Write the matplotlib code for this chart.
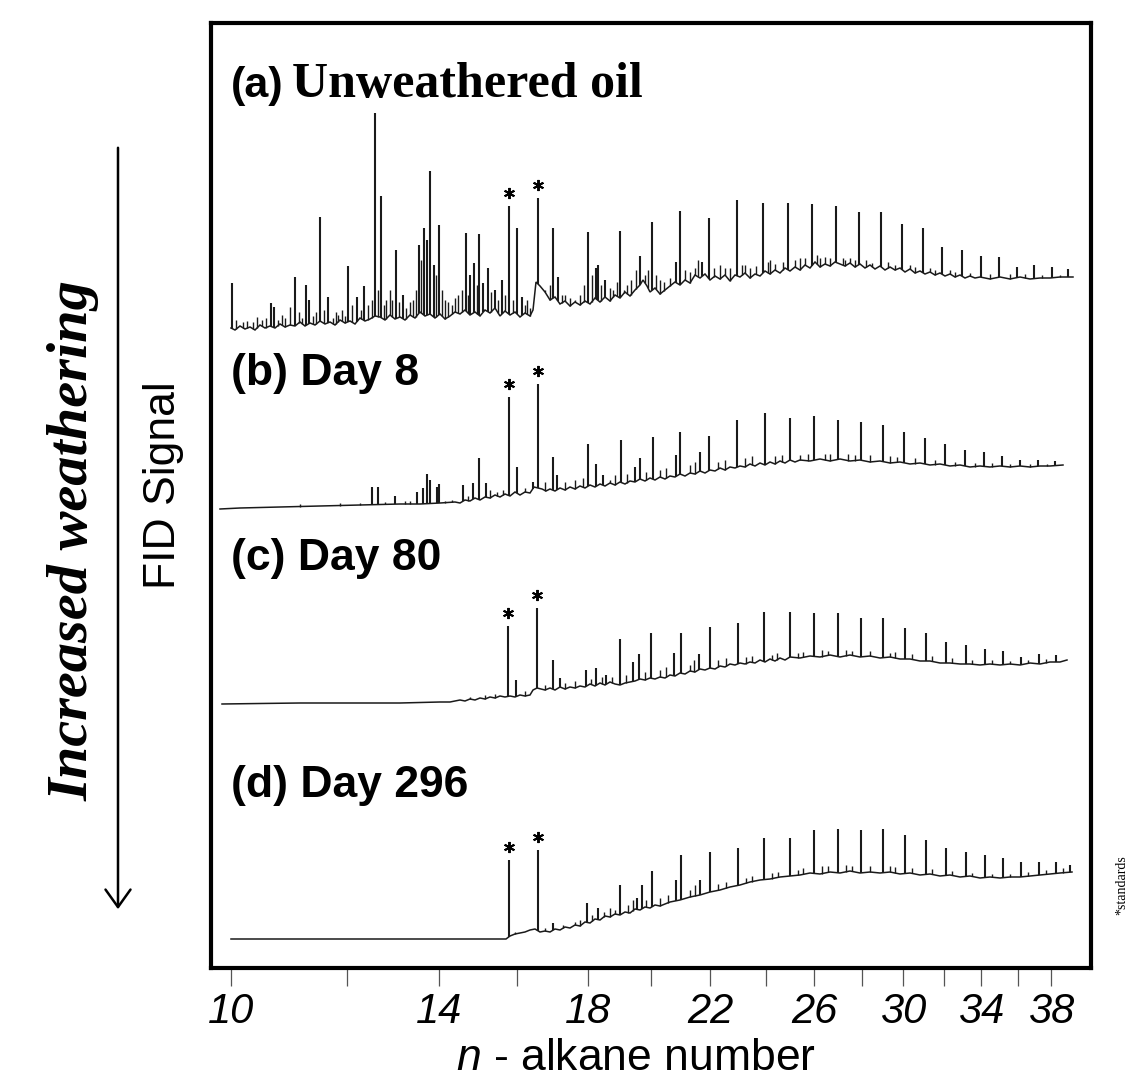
import numpy as np
import matplotlib
matplotlib.use('Agg')
import matplotlib.pyplot as plt
from matplotlib.patches import FancyArrowPatch

plt.rcParams['mathtext.fontset'] = 'custom'
plt.rcParams['mathtext.it'] = 'Liberation Sans:italic'
plt.rcParams['mathtext.rm'] = 'Liberation Sans'

# ---------------- data ----------------
# retention positions of the n-alkanes used as axis ticks
alkane_rt = [231, 347, 439, 517, 588, 651, 710, 766, 814, 862, 903, 944, 981, 1018, 1051]
tick_labels = ['10', '', '14', '', '18', '', '22', '', '26', '', '30', '', '34', '', '38']

panel_titles = ['(a)', '(b) Day 8', '(c) Day 80', '(d) Day 296']

# ---- (a) unweathered oil ----
a_base_rt = [231, 235, 240, 245, 250, 255, 260, 265, 270, 275, 280, 285, 290, 295, 300, 305, 310, 315,
             320, 325, 330, 335, 340, 345, 350, 355, 360, 365, 370, 375, 380, 385, 390, 395, 400, 405,
             410, 415, 420, 425, 430, 435, 440, 445, 450, 455, 460, 465, 470, 475, 480, 485, 490, 495,
             500, 505, 510, 515, 520, 525, 530, 533, 536, 540, 545, 550, 555, 560, 565, 570, 575, 580,
             585, 590, 595, 600, 605, 610, 615, 620, 625, 630, 635, 640, 643, 647, 650, 655, 660, 665,
             670, 675, 680, 685, 690, 695, 700, 705, 710, 715, 720, 725, 730, 735, 740, 745, 750, 755,
             760, 765, 770, 775, 780, 785, 790, 795, 800, 805, 810, 815, 820, 825, 830, 835, 840, 845,
             850, 855, 860, 865, 870, 875, 880, 885, 890, 895, 900, 905, 910, 915, 920, 925, 930, 935,
             940, 945, 950, 955, 960, 965, 970, 975, 980, 990, 1000, 1010, 1020, 1030, 1040, 1050, 1060,
             1073]
a_base = [2, 0, 4, 1, 3, 0, 5, 2, 4, 2, 6, 3, 5, 4, 8, 4, 7, 5,
          9, 6, 8, 5, 10, 7, 9, 6, 12, 9, 11, 14, 13, 10, 15, 11, 13, 10,
          15, 12, 18, 14, 16, 12, 16, 11, 14, 18, 16, 20, 15, 18, 14, 20, 17, 22,
          14, 19, 15, 18, 13, 17, 14, 20, 48, 44, 38, 30, 33, 26, 29, 24, 28, 25,
          29, 26, 32, 28, 33, 29, 35, 32, 38, 34, 40, 45, 50, 44, 38, 42, 36, 40,
          44, 48, 45, 50, 47, 55, 52, 56, 50, 54, 51, 55, 49, 55, 53, 57, 52, 56,
          54, 59, 56, 60, 57, 62, 59, 63, 60, 65, 62, 68, 63, 66, 64, 68, 66, 64,
          67, 63, 66, 62, 65, 61, 64, 60, 63, 60, 62, 58, 61, 57, 59, 56, 58, 55,
          57, 54, 56, 53, 55, 52, 54, 52, 53, 51, 53, 51, 53, 51, 52, 52, 53,
          53]
a_peak_rt = [232, 271, 274, 295, 306, 309, 320, 328, 348, 357, 364, 375, 381, 396, 403, 419, 424, 427,
             430, 434, 439, 466, 470, 474, 479, 483, 488, 495, 502, 509, 517, 522, 538, 553, 558, 588,
             596, 598, 605, 620, 640, 652, 676, 680, 702, 709, 737, 763, 788, 812, 836, 859, 881, 902,
             923, 942, 962, 981, 999, 1017, 1034, 1052, 1068]
a_peak = [47, 27, 23, 53, 45, 30, 113, 33, 64, 33, 44, 217, 134, 80, 35, 85, 102, 90,
          159, 65, 105, 97, 55, 67, 96, 47, 62, 40, 50, 124, 102, 33, 132, 102, 53, 98,
          62, 65, 50, 99, 74, 108, 68, 119, 68, 112, 130, 127, 127, 126, 124, 118, 118, 106,
          102, 83, 80, 74, 73, 63, 65, 63, 61]
a_minor_rt = [236, 243, 247, 253, 257, 262, 266, 278, 282, 285, 290, 299, 302, 313, 316, 324, 333, 336,
              338, 342, 345, 352, 361, 368, 372, 378, 384, 386, 390, 392, 399, 406, 410, 413, 416, 421,
              436, 442, 445, 448, 452, 455, 458, 462, 468, 477, 491, 498, 505, 513, 525, 527, 530, 545,
              550, 562, 565, 570, 575, 580, 584, 592, 601, 610, 613, 617, 624, 627, 631, 636, 645, 648,
              656, 660, 664, 670, 685, 690, 695, 698, 714, 720, 725, 730, 742, 745, 750, 756, 768, 770,
              775, 783, 795, 800, 805, 817, 820, 825, 830, 843, 845, 850, 855, 866, 872, 888, 895, 910,
              915, 930, 935, 950, 955, 970, 990, 1010, 1025, 1042, 1060]
a_minor = [10, 8, 9, 8, 13, 10, 12, 10, 15, 12, 23, 18, 12, 14, 18, 20, 12, 18,
           15, 20, 14, 25, 20, 25, 30, 40, 25, 30, 40, 30, 28, 22, 28, 30, 40, 70,
           55, 40, 30, 28, 25, 32, 35, 40, 35, 45, 38, 30, 35, 30, 25, 30, 22, 40,
           45, 35, 35, 32, 30, 35, 45, 55, 45, 42, 40, 48, 40, 45, 50, 60, 55, 60,
           55, 50, 48, 52, 60, 58, 62, 70, 62, 65, 62, 62, 65, 65, 62, 64, 68, 70,
           66, 68, 70, 72, 72, 75, 72, 73, 72, 72, 70, 72, 70, 70, 67, 68, 65, 65,
           63, 62, 60, 60, 58, 57, 56, 56, 56, 55, 55]

# ---- (b) Day 8 ----
b_base_rt = [220, 240, 260, 280, 300, 320, 340, 360, 380, 400, 420, 440, 455, 460, 465, 470, 475, 480,
             485, 490, 495, 500, 505, 510, 515, 520, 525, 530, 534, 538, 542, 546, 550, 555, 560, 565,
             570, 575, 580, 585, 590, 595, 600, 605, 610, 615, 620, 625, 630, 635, 640, 645, 650, 655,
             660, 665, 670, 675, 680, 685, 690, 695, 700, 705, 710, 715, 720, 725, 730, 735, 740, 745,
             750, 755, 760, 765, 770, 775, 780, 785, 790, 795, 800, 810, 820, 830, 840, 850, 860, 870,
             880, 890, 900, 910, 920, 930, 940, 950, 960, 970, 980, 990, 1000, 1010, 1020, 1030, 1040,
             1050, 1063]
b_base = [1, 2, 2.5, 3, 3.5, 4, 4.5, 5, 5.5, 6, 6, 7, 8, 7, 10, 9, 12, 10,
          13, 12, 15, 13, 16, 14, 18, 15, 18, 17, 23, 22, 21, 19, 21, 19, 22, 20,
          23, 21, 24, 22, 25, 23, 26, 24, 27, 25, 28, 26, 29, 28, 31, 29, 32, 30,
          33, 31, 34, 33, 36, 34, 37, 36, 39, 37, 40, 39, 42, 40, 43, 42, 44, 43,
          46, 44, 47, 45, 48, 46, 49, 47, 50, 48, 50, 49, 51, 49, 51, 49, 50, 48,
          49, 47, 48, 46, 47, 45, 46, 44, 45, 43, 44, 43, 44, 43, 44, 43, 44,
          44, 45]
b_peak_rt = [372, 378, 395, 417, 423, 427, 430, 437, 439, 463, 473, 479, 486, 509, 517, 533, 538, 553,
             557, 588, 596, 603, 621, 635, 640, 653, 676, 680, 700, 709, 737, 765, 790, 814, 838, 861,
             883, 904, 925, 945, 965, 984, 1002, 1020, 1038, 1055]
b_peak = [23, 23, 14, 18, 22, 36, 30, 23, 26, 25, 27, 52, 27, 113, 43, 28, 126, 53,
          35, 66, 46, 35, 70, 43, 52, 73, 55, 78, 58, 74, 90, 97, 92, 94, 90, 88,
          85, 78, 72, 66, 60, 58, 54, 50, 50, 49]
b_minor_rt = [300, 340, 360, 385, 405, 410, 445, 452, 468, 490, 497, 503, 525, 545, 565, 575, 583, 610,
              615, 627, 646, 660, 666, 690, 695, 718, 725, 745, 752, 775, 782, 800, 808, 825, 830, 848,
              855, 870, 890, 897, 915, 935, 955, 975, 992, 1010, 1030, 1047]
b_minor = [6, 7, 7, 8, 9, 9, 9, 10, 14, 20, 18, 20, 22, 28, 28, 30, 32, 30,
           35, 36, 38, 40, 42, 45, 48, 48, 50, 52, 54, 54, 55, 55, 56, 56, 56, 56,
           55, 55, 54, 53, 52, 50, 48, 47, 47, 46, 46, 46]

# ---- (c) Day 80 ----
c_base_rt = [222, 260, 300, 350, 400, 440, 450, 460, 465, 470, 475, 480, 485, 490, 495, 500, 505, 510,
             515, 520, 525, 530, 533, 537, 541, 545, 550, 555, 560, 565, 570, 575, 580, 585, 590, 595,
             600, 605, 610, 615, 620, 625, 630, 635, 640, 645, 650, 655, 660, 665, 670, 675, 680, 685,
             690, 695, 700, 705, 710, 715, 720, 725, 730, 735, 740, 745, 750, 755, 760, 765, 770, 775,
             780, 785, 790, 800, 810, 820, 830, 840, 850, 860, 870, 880, 890, 900, 910, 920, 930, 940,
             950, 960, 970, 980, 990, 1000, 1010, 1020, 1030, 1040, 1050, 1060, 1067]
c_base = [1, 1.5, 2, 2, 2, 3, 3, 5, 4, 6, 5, 7, 6, 8, 7, 9, 8, 9,
          8, 10, 9, 10, 15, 17, 16, 15, 17, 15, 18, 16, 18, 17, 19, 18, 21, 19,
          22, 20, 23, 21, 20, 22, 23, 24, 26, 25, 27, 26, 28, 27, 30, 29, 32, 31,
          34, 33, 36, 35, 37, 36, 39, 38, 41, 40, 42, 41, 43, 42, 45, 43, 46, 44,
          47, 45, 48, 47, 49, 48, 50, 48, 50, 48, 49, 47, 48, 46, 46, 44, 44, 42,
          42, 41, 41, 40, 41, 40, 41, 40, 42, 41, 43, 43, 45]
c_peak_rt = [508, 516, 537, 553, 560, 586, 596, 606, 620, 633, 639, 651, 674, 681, 699, 710, 738, 764,
             790, 814, 838, 861, 883, 905, 926, 946, 966, 985, 1003, 1021, 1039, 1056]
c_peak = [79, 25, 97, 45, 27, 35, 37, 30, 66, 43, 51, 72, 52, 72, 51, 78, 82, 93,
          93, 92, 92, 87, 87, 77, 72, 63, 60, 56, 54, 48, 51, 50]
c_minor_rt = [470, 485, 495, 525, 545, 565, 575, 591, 602, 612, 626, 645, 660, 666, 690, 694, 718, 726,
              746, 752, 772, 777, 798, 803, 822, 828, 846, 852, 870, 890, 895, 912, 932, 952, 972, 992,
              1010, 1028, 1046]
c_minor = [8, 10, 11, 14, 20, 22, 24, 26, 28, 28, 30, 33, 35, 38, 40, 45, 45, 47,
           48, 49, 50, 52, 52, 53, 55, 54, 55, 54, 54, 52, 53, 51, 49, 47, 45, 45,
           44, 45, 46]

# ---- (d) Day 296 ----
d_base_rt = [231, 300, 400, 480, 506, 510, 515, 520, 525, 530, 535, 540, 545, 550, 555, 560, 565, 570,
             575, 580, 585, 590, 595, 600, 605, 610, 615, 620, 625, 630, 635, 640, 645, 650, 655, 660,
             670, 680, 690, 700, 710, 720, 730, 740, 750, 760, 770, 780, 790, 800, 810, 820, 830, 840,
             850, 860, 870, 880, 890, 900, 910, 920, 930, 940, 950, 960, 970, 980, 990, 1000, 1010, 1020,
             1030, 1040, 1050, 1060, 1072]
d_base = [1, 1, 1, 1, 1, 4, 6, 7, 8, 10, 11, 8, 9, 8, 11, 10, 13, 12,
          15, 14, 18, 17, 21, 20, 24, 23, 26, 25, 28, 27, 31, 30, 33, 32, 35, 34,
          38, 40, 43, 45, 48, 50, 53, 55, 58, 60, 61, 63, 64, 65, 67, 66, 68, 67,
          69, 67, 68, 67, 68, 66, 67, 65, 66, 64, 65, 63, 64, 62, 63, 62, 63, 63,
          64, 65, 66, 67, 68]
d_peak_rt = [509, 538, 553, 587, 598, 620, 637, 642, 652, 676, 681, 700, 710, 738, 764, 790, 814, 838,
             861, 883, 905, 926, 946, 966, 985, 1003, 1021, 1039, 1056, 1070]
d_peak = [80, 90, 17, 37, 32, 55, 42, 55, 69, 60, 85, 60, 88, 92, 102, 102, 110, 111,
          110, 111, 105, 100, 92, 88, 85, 82, 78, 78, 78, 75]
d_minor_rt = [515, 545, 563, 575, 580, 592, 604, 610, 615, 628, 633, 646, 660, 668, 690, 695, 718, 726,
              746, 752, 772, 778, 798, 803, 822, 828, 846, 852, 870, 890, 895, 912, 932, 952, 972, 992,
              1010, 1028, 1046, 1063]
d_minor = [8, 12, 15, 18, 20, 25, 28, 32, 30, 35, 40, 40, 42, 45, 50, 55, 56, 58,
           62, 64, 67, 68, 70, 72, 74, 74, 75, 74, 74, 74, 73, 72, 71, 69, 67, 66,
           66, 68, 70, 72]

# internal standards (marked with *)
standard_rt = [[509, 538], [509, 538], [508, 537], [509, 538]]

panels = [
    (a_base_rt, a_base, a_peak_rt, a_peak, a_minor_rt, a_minor),
    (b_base_rt, b_base, b_peak_rt, b_peak, b_minor_rt, b_minor),
    (c_base_rt, c_base, c_peak_rt, c_peak, c_minor_rt, c_minor),
    (d_base_rt, d_base, d_peak_rt, d_peak, d_minor_rt, d_minor),
]
offsets = [638, 458, 263, 28]

# ---------------- figure ----------------
W, H = 1131, 1085
fig = plt.figure(figsize=(W / 100, H / 100), dpi=100)
ax = fig.add_axes([211 / W, 117 / H, 880 / W, 945 / H])
ax.set_xlim(211, 1091)
ax.set_ylim(0, 945)

lc = '#1a1a1a'
for (brt, bs, prt, ps, mrt, ms), off, srt in zip(panels, offsets, standard_rt):
    brt = np.asarray(brt, float)
    bs = np.asarray(bs, float)
    prt = np.asarray(prt, float)
    ps = np.asarray(ps, float)
    mrt = np.asarray(mrt, float)
    ms = np.asarray(ms, float)
    ax.plot(brt, bs + off, color=lc, lw=1.1, solid_joinstyle='miter')
    ax.vlines(mrt, np.interp(mrt, brt, bs) + off, ms + off, color=lc, lw=1.0)
    ax.vlines(prt, np.interp(prt, brt, bs) + off, ps + off, color=lc, lw=1.5)
    for s in srt:
        top = ps[np.argmin(np.abs(prt - s))]
        ax.plot([s], [top + off + 13], marker=(6, 2, 0), ms=8, mew=1.4, color='black')

for sp in ax.spines.values():
    sp.set_linewidth(3.0)
    sp.set_color('black')

ax.set_yticks([])
ax.set_xticks(alkane_rt)
ax.set_xticklabels(tick_labels, family='Liberation Sans', style='italic', fontsize=30)
ax.tick_params(axis='x', direction='out', length=13, width=0.9, color='#555555', pad=4)

fig.text(636 / W, 1 - 1058 / H, r'$\mathit{n}$ - alkane number',
         family='Liberation Sans', fontsize=32, ha='center', va='center')

# panel labels
fig.text(231 / W, 1 - 97 / H, panel_titles[0], family='Liberation Sans', weight='bold',
         fontsize=31, va='baseline', ha='left')
fig.text(292 / W, 1 - 97 / H, 'Unweathered oil', family='Liberation Serif', weight='bold',
         fontsize=36, va='baseline', ha='left')
for t, yb in zip(panel_titles[1:], [385, 570, 797]):
    fig.text(231 / W, 1 - yb / H, t, family='Liberation Sans', weight='bold',
             fontsize=32, va='baseline', ha='left')

# left annotations
fig.text(74 / W, 1 - 541 / H, 'Increased weathering', rotation=90,
         family='Liberation Serif', style='italic', weight='bold', fontsize=42,
         ha='center', va='center')
fig.text(164 / W, 1 - 485 / H, 'FID Signal', rotation=90, family='Liberation Sans',
         fontsize=32, ha='center', va='center')
arr = FancyArrowPatch((118 / W, 1 - 145 / H), (118 / W, 1 - 912 / H), transform=fig.transFigure,
                      arrowstyle='->,head_length=0.7,head_width=0.5', mutation_scale=18,
                      lw=1.8, color='black')
fig.add_artist(arr)

fig.text(1122 / W, 1 - 885 / H, '*standards', rotation=90, family='Liberation Serif',
         fontsize=10, ha='center', va='center')

fig.savefig('out.png', dpi=100)
